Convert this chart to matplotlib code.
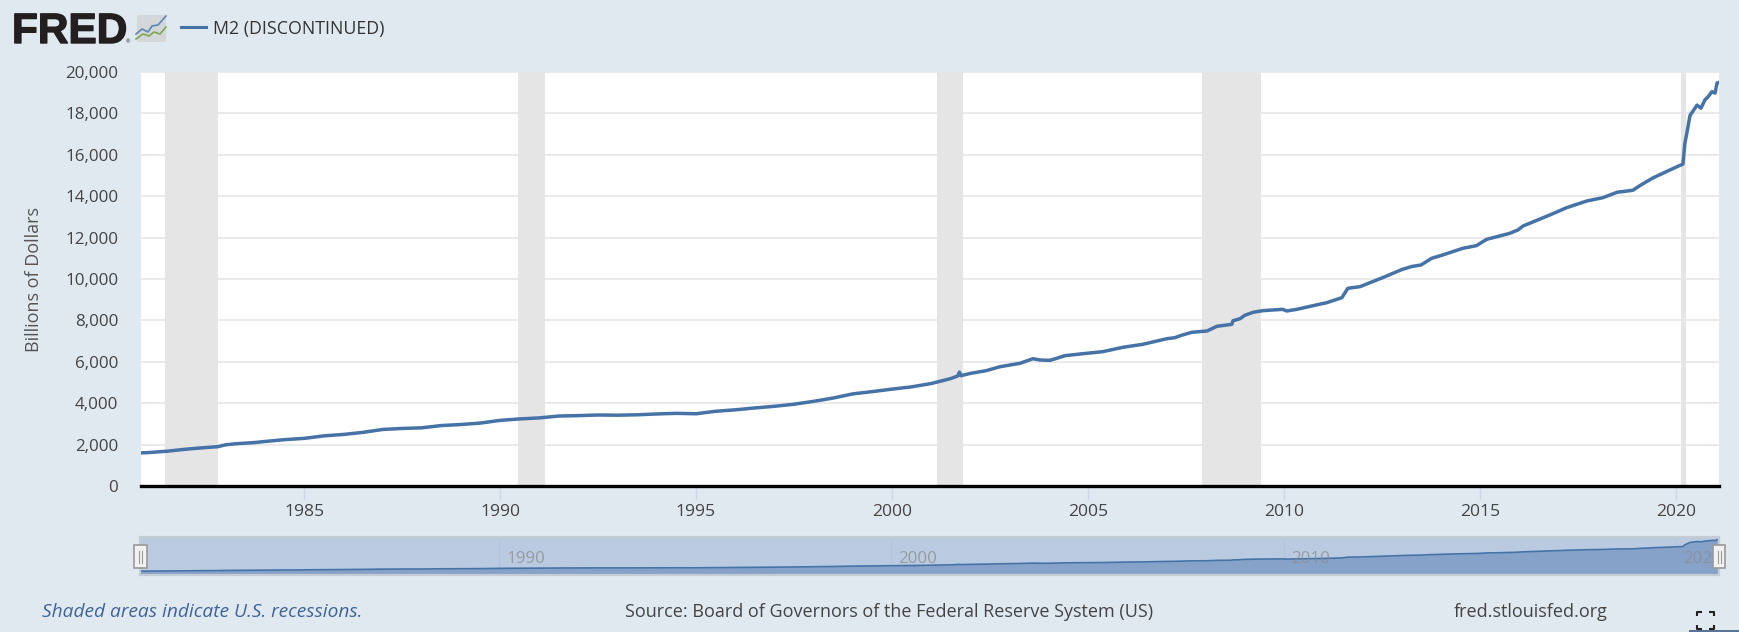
import matplotlib
matplotlib.use('Agg')
import matplotlib.pyplot as plt
import matplotlib.patheffects as pe
from matplotlib.patches import Rectangle, FancyBboxPatch

W, H = 1739, 632
plt.rcParams['font.family'] = ['Open Sans', 'DejaVu Sans']

years = [1980.84, 1981.0, 1981.5, 1982.0, 1982.5, 1982.8, 1983.0, 1983.25, 1983.75, 1984.0,
         1984.5, 1985.0, 1985.5, 1986.0, 1986.5, 1987.0, 1987.5, 1988.0, 1988.5, 1989.0,
         1989.5, 1990.0, 1990.5, 1991.0, 1991.5, 1992.0, 1992.5, 1993.0, 1993.5, 1994.0,
         1994.5, 1995.0, 1995.5, 1996.0, 1996.5, 1997.0, 1997.5, 1998.0, 1998.5, 1999.0,
         1999.5, 2000.0, 2000.5, 2001.0, 2001.5, 2001.68, 2001.72, 2001.76, 2002.0, 2002.4,
         2002.75, 2003.26, 2003.6, 2003.77, 2004.03, 2004.28, 2004.41, 2004.79, 2005.38, 2005.89,
         2006.4, 2007.01, 2007.22, 2007.35, 2007.65, 2008.04, 2008.29, 2008.67, 2008.7, 2008.88,
         2009.0, 2009.21, 2009.46, 2009.97, 2010.07, 2010.33, 2010.74, 2011.09, 2011.48, 2011.63,
         2011.94, 2012.5, 2013.0, 2013.25, 2013.5, 2013.77, 2014.05, 2014.56, 2014.91, 2015.17,
         2015.76, 2015.97, 2016.1, 2016.78, 2017.22, 2017.73, 2018.14, 2018.5, 2018.9, 2019.08,
         2019.41, 2020.0, 2020.18, 2020.23, 2020.28, 2020.36, 2020.54, 2020.64, 2020.74, 2020.82,
         2020.92, 2021.0, 2021.05, 2021.1]
m2 = [1600, 1610, 1680, 1780, 1860, 1900, 1990, 2040, 2100, 2150,
      2240, 2300, 2420, 2490, 2590, 2730, 2780, 2810, 2920, 2970,
      3040, 3170, 3240, 3290, 3380, 3400, 3430, 3420, 3440, 3480,
      3510, 3490, 3610, 3680, 3770, 3850, 3950, 4090, 4250, 4450,
      4560, 4680, 4790, 4950, 5190, 5320, 5500, 5330, 5440, 5570,
      5760, 5925, 6150, 6087, 6070, 6215, 6295, 6375, 6490, 6700,
      6845, 7115, 7165, 7260, 7425, 7490, 7715, 7810, 7985, 8080,
      8245, 8390, 8470, 8535, 8455, 8535, 8710, 8855, 9100, 9550,
      9630, 10050, 10450, 10600, 10680, 11000, 11160, 11480, 11610, 11915,
      12205, 12370, 12560, 13090, 13450, 13770, 13930, 14190, 14285, 14510,
      14880, 15400, 15550, 16570, 17050, 17900, 18400, 18250, 18650, 18800,
      19050, 18980, 19470, 19500]

recessions = [(1981.45, 1982.8), (1990.45, 1991.15), (2001.15, 2001.82), (2007.9, 2009.42), (2020.13, 2020.27)]
y_ticks = [0, 2000, 4000, 6000, 8000, 10000, 12000, 14000, 16000, 18000, 20000]
x_ticks = [1985, 1990, 1995, 2000, 2005, 2010, 2015, 2020]
nav_labels = [1990, 2000, 2010, 2020]
x_range = (1980.84, 2021.1)

BG = '#e1e9f0'
LINE = '#4572a7'
TXT = '#444444'


def px_axes(fig, x0, y0, x1, y1):
    # pixel box measured from the top left of the picture
    return fig.add_axes([x0 / W, 1 - y1 / H, (x1 - x0) / W, (y1 - y0) / H])


fig = plt.figure(figsize=(W / 100, H / 100), dpi=100, facecolor=BG)

# main chart
ax = px_axes(fig, 141, 72, 1719, 486)
for a, b in recessions:
    ax.axvspan(a, b, color='#e5e5e5', lw=0, zorder=1)
ax.set_yticks(y_ticks)
ax.set_yticklabels(['{:,}'.format(v) for v in y_ticks], fontsize=12.2, color=TXT)
ax.set_xticks(x_ticks)
ax.set_xticklabels([str(v) for v in x_ticks], fontsize=12.6, color=TXT)
ax.grid(axis='y', color='#e6e6e6', lw=1.2, zorder=2)
ax.plot(years, m2, color=LINE, lw=2.5, zorder=3, solid_joinstyle='round')
ax.set_xlim(*x_range)
ax.set_ylim(0, 20000)
ax.tick_params(axis='y', length=0, pad=16.5)
ax.tick_params(axis='x', length=10, width=1, color='#ccd6eb', pad=3)
for s in ['top', 'right', 'left']:
    ax.spines[s].set_visible(False)
ax.spines['bottom'].set_color('black')
ax.spines['bottom'].set_linewidth(2.4)
ax.spines['bottom'].set_zorder(5)
ax.set_ylabel('Billions of Dollars', fontsize=13, color='#555555')
ax.yaxis.set_label_coords((43 - 141) / (1719 - 141), 0.5)

# navigator under the chart
nav = px_axes(fig, 140, 537, 1719, 575)
nav.set_facecolor('#bacbe1')
nav.fill_between(years, m2, 0, color='#86a2c9', lw=0, zorder=1)
nav.plot(years, m2, color=LINE, lw=1.2, zorder=2)
nav.set_xlim(*x_range)
nav.set_ylim(-600, 21000)
nav.set_xticks([])
nav.set_yticks([])
for s in nav.spines.values():
    s.set_color('#c6ccd4')
    s.set_linewidth(1.6)
for v in nav_labels:
    nav.axvline(v, color='#b2c4dd', lw=0.8, zorder=0.5)
    nav.annotate(str(v), (v, 0), xytext=(7, 7), textcoords='offset pixels', ha='left', va='bottom',
                 fontsize=12.2, color='#8c8c8c', alpha=0.75, annotation_clip=False, clip_on=True)

# overlay in picture pixels for the logo, handles and footer
ov = fig.add_axes([0, 0, 1, 1], facecolor='none')
ov.set_xlim(0, W)
ov.set_ylim(H, 0)
ov.axis('off')

logo = ov.text(12, 43, 'FRED', fontsize=30.5, fontweight='bold', color='#231f20', va='baseline', ha='left',
               family=['Liberation Sans', 'DejaVu Sans'])
logo.set_path_effects([pe.withStroke(linewidth=1.0, foreground='#231f20')])
ov.add_patch(FancyBboxPatch((137, 15), 29, 27, boxstyle='round,pad=0,rounding_size=2', fc='#d3d7d9', ec='none'))
ov.plot([136, 142, 148, 152, 158, 166], [34, 29, 32, 26, 25, 16], color='#5b86b5', lw=1.2)
ov.plot([136, 143, 149, 154, 160, 166], [39, 34, 36, 32, 34, 27], color='#7ea84f', lw=1.2)
ov.text(128.5, 42, '\u00ae', fontsize=4, color='#231f20', ha='center', va='center')

ov.plot([181, 206], [27, 27], color=LINE, lw=2.2)
ov.text(213, 29, 'M2 (DISCONTINUED)', fontsize=12.75, color='#333333', va='center', ha='left')

for x0, x1 in [(134, 147), (1713, 1725)]:
    ov.add_patch(Rectangle((x0, 545), x1 - x0, 23, fc='#f2f2f2', ec='#999999', lw=1.2))
    xm = (x0 + x1) / 2
    ov.plot([xm - 1.5, xm - 1.5], [551, 563], color='#999999', lw=0.8)
    ov.plot([xm + 1.5, xm + 1.5], [551, 563], color='#999999', lw=0.8)

ov.text(42, 612, 'Shaded areas indicate U.S. recessions.', fontsize=13.8, style='italic',
        color='#3e6398', va='center', ha='left')
ov.text(625, 612, 'Source: Board of Governors of the Federal Reserve System (US)', fontsize=12.95,
        color=TXT, va='center', ha='left')
ov.text(1454, 612, 'fred.stlouisfed.org', fontsize=12.95, color=TXT, va='center', ha='left')

# fullscreen icon
for x, y, dx, dy in [(1697, 612, 1, 1), (1714, 612, -1, 1), (1697, 629, 1, -1), (1714, 629, -1, -1)]:
    ov.plot([x + 5 * dx, x, x], [y, y, y + 4 * dy], color='#222222', lw=1.5, solid_capstyle='butt')
ov.add_patch(Rectangle((1689, 630), 50, 2, fc='#5a7394', ec='none'))

fig.savefig('out.png', dpi=100, facecolor=BG)
